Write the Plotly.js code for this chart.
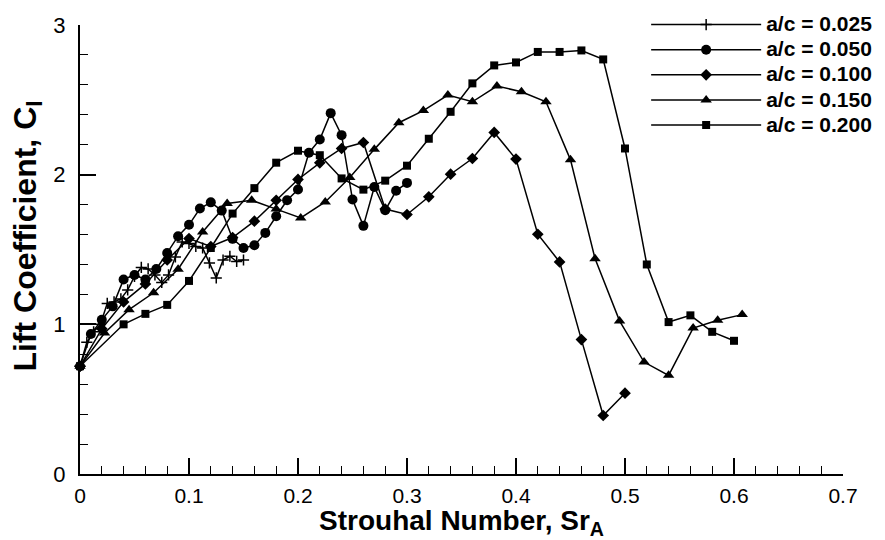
<!DOCTYPE html>
<html>
<head>
<meta charset="utf-8">
<script src="https://cdn.plot.ly/plotly-3.0.1.min.js"></script>
<style>html,body{margin:0;padding:0;background:#fff;}#chart{width:885px;height:540px;}</style>
</head>
<body>
<div id="chart"></div>
<script>
// a/c = 0.025 (plus)
const sr025 = [0, 0.00625, 0.0125, 0.01875, 0.025, 0.03125, 0.0375, 0.04375, 0.05, 0.05625, 0.0625, 0.06875, 0.075, 0.08125, 0.0875, 0.09375, 0.1, 0.10625, 0.1125, 0.11875, 0.125, 0.13125, 0.1375, 0.14375, 0.15];
const cl025 = [0.72, 0.88, 0.95, 1.0, 1.14, 1.15, 1.17, 1.23, 1.32, 1.38, 1.37, 1.33, 1.28, 1.33, 1.45, 1.55, 1.54, 1.52, 1.51, 1.41, 1.31, 1.43, 1.455, 1.42, 1.43];
// a/c = 0.050 (circle)
const sr050 = [0, 0.01, 0.02, 0.03, 0.04, 0.05, 0.06, 0.07, 0.08, 0.09, 0.10, 0.11, 0.12, 0.13, 0.14, 0.15, 0.16, 0.17, 0.18, 0.19, 0.20, 0.21, 0.22, 0.23, 0.24, 0.25, 0.26, 0.27, 0.28, 0.29, 0.30];
const cl050 = [0.72, 0.935, 1.03, 1.12, 1.30, 1.33, 1.30, 1.37, 1.477, 1.589, 1.665, 1.774, 1.815, 1.76, 1.571, 1.51, 1.528, 1.611, 1.722, 1.829, 1.901, 2.146, 2.235, 2.411, 2.264, 1.834, 1.658, 1.918, 1.762, 1.892, 1.945];
// a/c = 0.100 (diamond)
const sr100 = [0, 0.02, 0.04, 0.06, 0.08, 0.10, 0.12, 0.14, 0.16, 0.18, 0.20, 0.22, 0.24, 0.26, 0.28, 0.30, 0.32, 0.34, 0.36, 0.38, 0.40, 0.42, 0.44, 0.46, 0.48, 0.50];
const cl100 = [0.72, 0.97, 1.15, 1.27, 1.43, 1.573, 1.52, 1.58, 1.689, 1.829, 1.968, 2.079, 2.175, 2.215, 1.77, 1.734, 1.852, 2.003, 2.108, 2.282, 2.104, 1.602, 1.417, 0.898, 0.391, 0.54];
// a/c = 0.150 (triangle)
const sr150 = [0, 0.0225, 0.045, 0.0675, 0.09, 0.1125, 0.135, 0.1575, 0.18, 0.2025, 0.225, 0.2475, 0.27, 0.2925, 0.315, 0.3375, 0.36, 0.3825, 0.405, 0.4275, 0.45, 0.4725, 0.495, 0.5175, 0.54, 0.5625, 0.585, 0.6075];
const cl150 = [0.72, 0.942, 1.098, 1.211, 1.368, 1.617, 1.807, 1.829, 1.77, 1.711, 1.818, 1.981, 2.169, 2.347, 2.428, 2.532, 2.487, 2.592, 2.554, 2.487, 2.099, 1.439, 1.023, 0.748, 0.659, 0.975, 1.027, 1.065];
// a/c = 0.200 (square)
const sr200 = [0, 0.04, 0.06, 0.08, 0.10, 0.12, 0.14, 0.16, 0.18, 0.20, 0.22, 0.24, 0.26, 0.28, 0.30, 0.32, 0.34, 0.36, 0.38, 0.40, 0.42, 0.44, 0.46, 0.48, 0.50, 0.52, 0.54, 0.56, 0.58, 0.60];
const cl200 = [0.72, 1.00, 1.07, 1.13, 1.29, 1.51, 1.74, 1.91, 2.08, 2.16, 2.13, 1.975, 1.90, 1.96, 2.06, 2.24, 2.42, 2.61, 2.73, 2.75, 2.82, 2.82, 2.83, 2.77, 2.175, 1.40, 1.015, 1.06, 0.95, 0.89];

const seriesNames = ['a/c = 0.025', 'a/c = 0.050', 'a/c = 0.100', 'a/c = 0.150', 'a/c = 0.200'];
const xTitle = 'Strouhal Number, Sr<sub>A</sub>';
const yTitle = 'Lift Coefficient, C<sub>l</sub>';

const FONT = 'Liberation Sans, Arial, Helvetica, sans-serif';
const lineStyle = {color: '#000', width: 1.5};

function tr(x, y, name, marker) {
  return {x: x, y: y, name: '<span style="font-size:21px"><b>' + name + '</b></span>',
          type: 'scatter', mode: 'lines+markers', line: lineStyle, marker: marker, cliponaxis: false};
}

const data = [
  tr(sr025, cl025, seriesNames[0], {symbol: 'cross-thin', size: 8, color: '#000', line: {color: '#000', width: 1.5}}),
  tr(sr050, cl050, seriesNames[1], {symbol: 'circle', size: 10, color: '#000'}),
  tr(sr100, cl100, seriesNames[2], {symbol: 'diamond', size: 9, color: '#000'}),
  tr(sr150, cl150, seriesNames[3], {symbol: 'triangle-up', size: 10, color: '#000'}),
  tr(sr200, cl200, seriesNames[4], {symbol: 'square', size: 8, color: '#000'})
];

const layout = {
  width: 885, height: 540,
  margin: {l: 80, r: 42, t: 25, b: 66, pad: 0, autoexpand: false},
  paper_bgcolor: '#fff', plot_bgcolor: '#fff',
  font: {family: FONT, color: '#000'},
  showlegend: true,
  legend: {x: 0.742, y: 1.04, xanchor: 'left', yanchor: 'top', bgcolor: 'rgba(0,0,0,0)',
           font: {family: FONT, size: 17, color: '#000'}, itemwidth: 110, tracegroupgap: 0},
  annotations: [{
    text: '<b>' + yTitle + '</b>', xref: 'paper', yref: 'paper', x: -0.07, y: 0.53,
    xanchor: 'center', yanchor: 'middle', textangle: -90, showarrow: false,
    font: {family: FONT, size: 32, color: '#000'}
  }],
  xaxis: {
    range: [0, 0.7], dtick: 0.1, tick0: 0, showgrid: false, zeroline: false,
    showline: true, linecolor: '#000', linewidth: 2,
    ticks: 'inside', ticklen: 16, tickwidth: 2, tickcolor: '#000',
    minor: {dtick: 0.02, ticks: 'inside', ticklen: 8, tickwidth: 1, tickcolor: '#000', showgrid: false},
    tickfont: {family: FONT, size: 21, color: '#000'},
    ticklabelstandoff: 2,
    title: {text: '<b>' + xTitle + '</b>', font: {family: FONT, size: 28, color: '#000'}, standoff: 10}
  },
  yaxis: {
    range: [0, 3], dtick: 1, tick0: 0, showgrid: false, zeroline: false,
    showline: true, linecolor: '#000', linewidth: 2,
    ticks: 'inside', ticklen: 16, tickwidth: 2, tickcolor: '#000',
    minor: {dtick: 0.2, ticks: 'inside', ticklen: 8, tickwidth: 1, tickcolor: '#000', showgrid: false},
    tickfont: {family: FONT, size: 22, color: '#000'},
    ticklabelstandoff: 8
  }
};

Plotly.newPlot('chart', data, layout, {displayModeBar: false, staticPlot: true});
</script>
</body>
</html>
